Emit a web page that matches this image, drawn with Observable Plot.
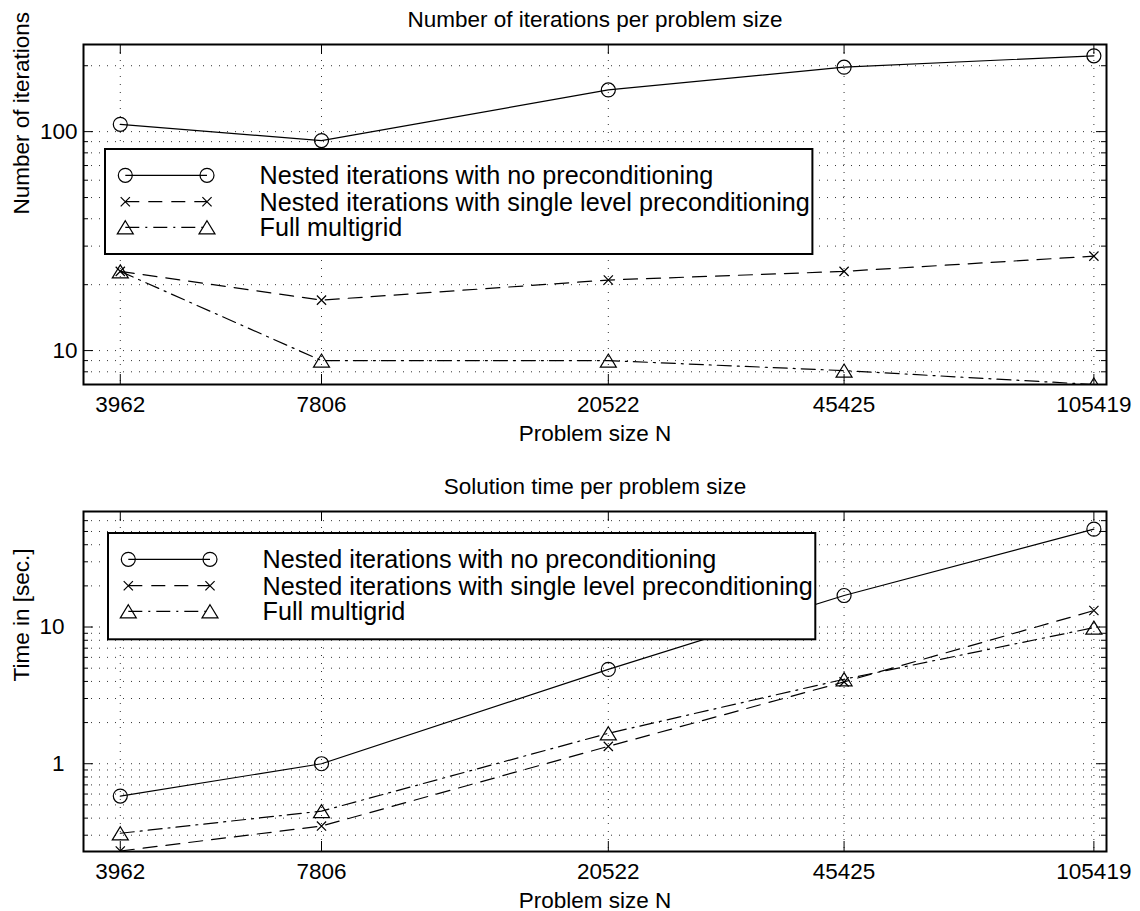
<!DOCTYPE html>
<html>
<head>
<meta charset="utf-8">
<script src="https://cdn.jsdelivr.net/npm/d3@7"></script>
<script src="https://cdn.jsdelivr.net/npm/@observablehq/plot@0.6"></script>
<style>
  body { margin: 0; background: #fff; }
  #wrap { position: relative; width: 1140px; height: 911px; font-family: "Liberation Sans", Arial, sans-serif; }
  #wrap svg { display: block; }
  .legend { position: absolute; }
</style>
</head>
<body>
<div id="wrap"></div>
<script>
// ---- data ----
const problemSizes = [3962, 7806, 20522, 45425, 105419];
const seriesNames = [
  "Nested iterations with no preconditioning",
  "Nested iterations with single level preconditioning",
  "Full multigrid"
];
const itersNoPrec = [108, 91, 155, 197, 222];
const itersSingle = [23, 17, 21, 23, 27];
const itersFMG    = [23, 9, 9, 8.1, 7];
const timeNoPrec  = [0.58, 1.0, 4.9, 17, 52];
const timeSingle  = [0.23, 0.35, 1.34, 3.97, 13.2];
const timeFMG     = [0.31, 0.45, 1.67, 4.15, 9.9];
const itersGrid  = [8, 9, 10, 20, 30, 40, 50, 60, 70, 80, 90, 100, 200];
const itersMajor = [10, 100];
const timeGrid   = [0.3, 0.4, 0.5, 0.6, 0.7, 0.8, 0.9, 1, 2, 3, 4, 5, 6, 7, 8, 9, 10, 20, 30, 40, 50, 60];
const timeMajor  = [1, 10];

// ---- symbols (size = pi r^2) ----
const triSym = { draw(ctx, size) { const r = Math.sqrt(size / Math.PI); const h = r * 0.82;
  ctx.moveTo(0, -h); ctx.lineTo(r, h); ctx.lineTo(-r, h); ctx.closePath(); } };
const timesSym = { draw(ctx, size) { const r = Math.sqrt(size / Math.PI);
  ctx.moveTo(-r, -r); ctx.lineTo(r, r); ctx.moveTo(r, -r); ctx.lineTo(-r, r); } };
const styles = [
  { symbol: "circle", r: 7, dash: null },
  { symbol: timesSym, r: 4.6, dash: "14,9" },
  { symbol: triSym, r: 8, dash: "14,6,2,6" }
];

const W = 1140, ML = 83, MR = 34, innerW = W - ML - MR, innerH = 340;
const FONT = "22.5px";

function chart(cfg) {
  const minor = cfg.grid.filter(v => !cfg.major.includes(v));
  const gridStyle = { stroke: "#000", strokeOpacity: 0.8, strokeDasharray: "1,7", strokeWidth: 1 };
  const marks = [
    Plot.gridY(cfg.grid, gridStyle),
    Plot.gridX(problemSizes, gridStyle),
    Plot.ruleX(problemSizes, { insetBottom: innerH - 10, stroke: "#000" }),
    Plot.ruleX(problemSizes, { insetTop: innerH - 10, stroke: "#000" }),
    Plot.ruleY(cfg.major, { insetRight: innerW - 10, stroke: "#000" }),
    Plot.ruleY(cfg.major, { insetLeft: innerW - 10, stroke: "#000" }),
    Plot.ruleY(minor, { insetRight: innerW - 5, stroke: "#000" }),
    Plot.ruleY(minor, { insetLeft: innerW - 5, stroke: "#000" }),
    // tick labels
    Plot.text(problemSizes, { x: d => d, text: d => String(d), frameAnchor: "bottom", lineAnchor: "top", dy: 12 }),
    Plot.text(cfg.major, { y: d => d, text: d => String(d), frameAnchor: "left", textAnchor: "end", dx: -cfg.yPad })
  ];
  cfg.series.forEach((vals, k) => {
    const rows = problemSizes.map((x, i) => ({ x, y: vals[i] }));
    const st = styles[k];
    marks.push(Plot.line(rows, { x: "x", y: "y", stroke: "#000", strokeWidth: 1.2, strokeDasharray: st.dash, clip: true }));
    marks.push(Plot.dot(rows, { x: "x", y: "y", symbol: st.symbol, r: st.r, stroke: "#000", strokeWidth: 1.2, fill: "none", clip: true }));
  });
  marks.push(Plot.frame({ stroke: "#000", strokeWidth: 2 }));
  marks.push(Plot.text([cfg.title], { text: d => d, frameAnchor: "top", lineAnchor: "bottom", dy: cfg.titleDy }));
  marks.push(Plot.text(["Problem size N"], { text: d => d, frameAnchor: "bottom", lineAnchor: "bottom", dy: 56 }));
  marks.push(Plot.text([cfg.ylabel], { text: d => d, frameAnchor: "left", rotate: -90, lineAnchor: "bottom", dx: -55 }));
  return Plot.plot({
    width: W, height: cfg.height,
    marginLeft: ML, marginRight: MR, marginTop: cfg.marginTop, marginBottom: cfg.height - cfg.marginTop - innerH,
    style: { fontFamily: "'Liberation Sans', Arial, sans-serif", fontSize: FONT, color: "#000", background: "#fff", overflow: "visible" },
    x: { type: "log", domain: [3500, 110000], axis: null },
    y: { type: "log", domain: cfg.yDomain, axis: null },
    marks
  });
}

const wrap = document.getElementById("wrap");
wrap.appendChild(chart({
  height: 455, marginTop: 44, yDomain: [7, 250], grid: itersGrid, major: itersMajor, yPad: 6,
  series: [itersNoPrec, itersSingle, itersFMG],
  title: "Number of iterations per problem size", titleDy: -18, ylabel: "Number of iterations"
}));
wrap.appendChild(chart({
  height: 456, marginTop: 56, yDomain: [0.228, 70], grid: timeGrid, major: timeMajor, yPad: 19,
  series: [timeNoPrec, timeSingle, timeFMG],
  title: "Solution time per problem size", titleDy: -17.5, ylabel: "Time in [sec.]"
}));

// ---- legends ----
function legend(left, top, w, h) {
  const pad = 2;
  const svg = d3.create("svg").attr("class", "legend")
    .attr("width", w + 2 * pad).attr("height", h + 2 * pad)
    .style("left", (left - pad) + "px").style("top", (top - pad) + "px");
  const g = svg.append("g").attr("transform", `translate(${pad},${pad})`);
  g.append("rect").attr("width", w).attr("height", h).attr("fill", "#fff").attr("stroke", "#000").attr("stroke-width", 2);
  const rowY = [26.3, 52.7, 78.3], mx1 = 20.3, mx2 = 102, tx = 154.5;
  seriesNames.forEach((name, k) => {
    const st = styles[k], y = rowY[k];
    g.append("line").attr("x1", mx1).attr("x2", mx2).attr("y1", y).attr("y2", y)
      .attr("stroke", "#000").attr("stroke-width", 1.2).attr("stroke-dasharray", st.dash);
    const type = st.symbol === "circle" ? d3.symbolCircle : st.symbol;
    const path = d3.symbol(type, Math.PI * st.r * st.r)();
    [mx1, mx2].forEach(mx => g.append("path").attr("d", path).attr("transform", `translate(${mx},${y})`)
      .attr("fill", "none").attr("stroke", "#000").attr("stroke-width", 1.2));
    g.append("text").attr("x", tx).attr("y", y + 9).attr("font-size", 25.2)
      .attr("font-family", "'Liberation Sans', Arial, sans-serif").text(name);
  });
  wrap.appendChild(svg.node());
}
legend(105.3, 149, 707.4, 105);
legend(107.7, 532.7, 707.3, 106.3);
</script>
</body>
</html>
